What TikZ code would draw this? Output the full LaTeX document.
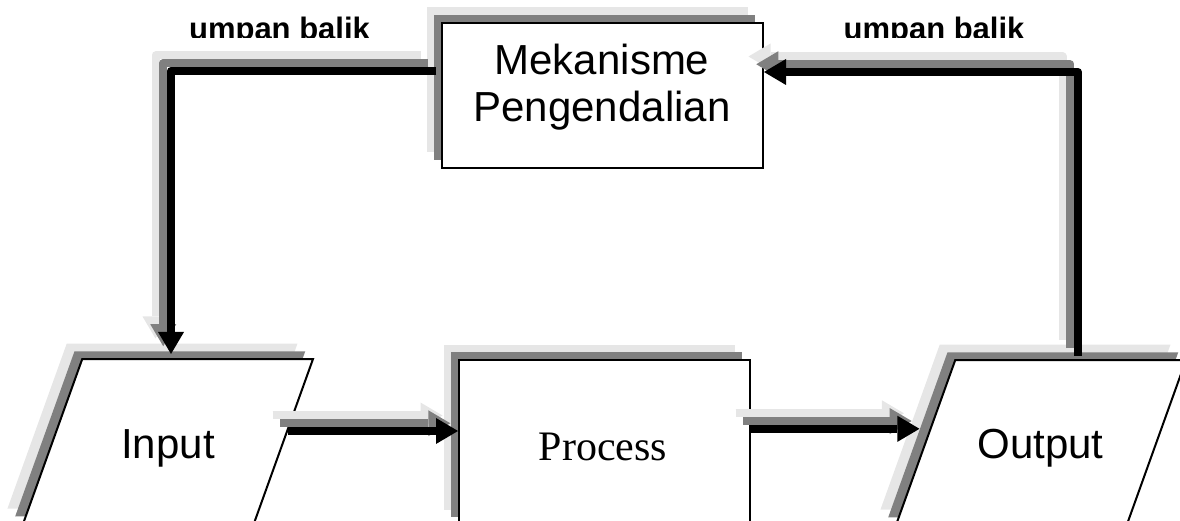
\documentclass[tikz,border=0pt]{standalone}
\usepackage{fontspec}
\setmainfont{Liberation Sans}
\newfontfamily\serifface{Liberation Serif}
\usetikzlibrary{shapes.geometric,shadows,arrows.meta}
\definecolor{shDark}{HTML}{808080}
\definecolor{shLight}{HTML}{E6E6E6}
\tikzset{
  twoshadow/.style={
    general shadow={fill=shLight, shadow xshift=-15.5pt, shadow yshift=15.5pt},
    general shadow={fill=shDark, shadow xshift=-7.75pt, shadow yshift=7.75pt}},
  block/.style={rectangle, draw=black, line width=2pt, fill=white,
    inner sep=0pt, twoshadow},
  slanted/.style={block, shape=trapezium, trapezium left angle=70.93,
    trapezium right angle=109.07, trapezium stretches=true, inner sep=2pt},
  bigtext/.style={font=\fontsize{42}{47}\selectfont, inner sep=0pt},
  fbtext/.style={font=\fontsize{31}{36}\selectfont\bfseries, inner sep=0pt, anchor=base},
  flow/.style={line width=8pt, line join=round,
    -{Triangle[length=22pt,width=26pt,line width=0pt]}},
}
\begin{document}
\begin{tikzpicture}[x=1pt,y=-1pt]
\useasboundingbox (0,0) rectangle (1180,521);
\clip (0,0) rectangle (1180,521);

% blocks
\node[block, minimum width=321pt, minimum height=145pt] (mek) at (602.5,95.5) {};
\node[slanted, minimum width=290pt, minimum height=165pt] (in) at (168,441.5) {};
\node[block, minimum width=291pt, minimum height=165pt] (proc) at (604.5,442.5) {};
\node[slanted, minimum width=290pt, minimum height=165pt] (out) at (1041,442.5) {};

% block texts
\node[bigtext, align=center] (mektext) at (602,87.5) {Mekanisme\\Pengendalian};
\node[bigtext, anchor=base] (intext) at (168,458) {Input};
\node[bigtext, anchor=base, font=\fontsize{42}{47}\serifface] (proctext) at (603,460) {Process};
\node[bigtext, anchor=base] (outtext) at (1040.5,458) {Output};

% feedback labels, cut off just above their baseline
\begin{scope}
  \clip (0,0) rectangle (1180,38);
  \node[fbtext] (fbleft) at (279.5,39.5) {umpan balik};
  \node[fbtext] (fbright) at (934,39.5) {umpan balik};
\end{scope}

% connectors, each with a dark and a light offset copy behind it
\foreach \off/\col in {15.5/shLight, 7.75/shDark, 0/black} {
  \begin{scope}[transform canvas={shift={(-\off,-\off)}}]
    \draw[flow, color=\col] ([shift={(-5,49)}]mek.north west)
      -| ([shift={(3,-4)}]in.north);
    \draw[flow, color=\col] ([shift={(37,-3)}]out.north)
      |- ([shift={(0,-23.5)}]mek.east);
    \draw[flow, color=\col] (in.5) -- (in.5 -| proc.west);
    \draw[flow, color=\col, shorten >=10pt] (proc.east |- out.173.6) -- (out.173.6);
  \end{scope}
}
\end{tikzpicture}
\end{document}
